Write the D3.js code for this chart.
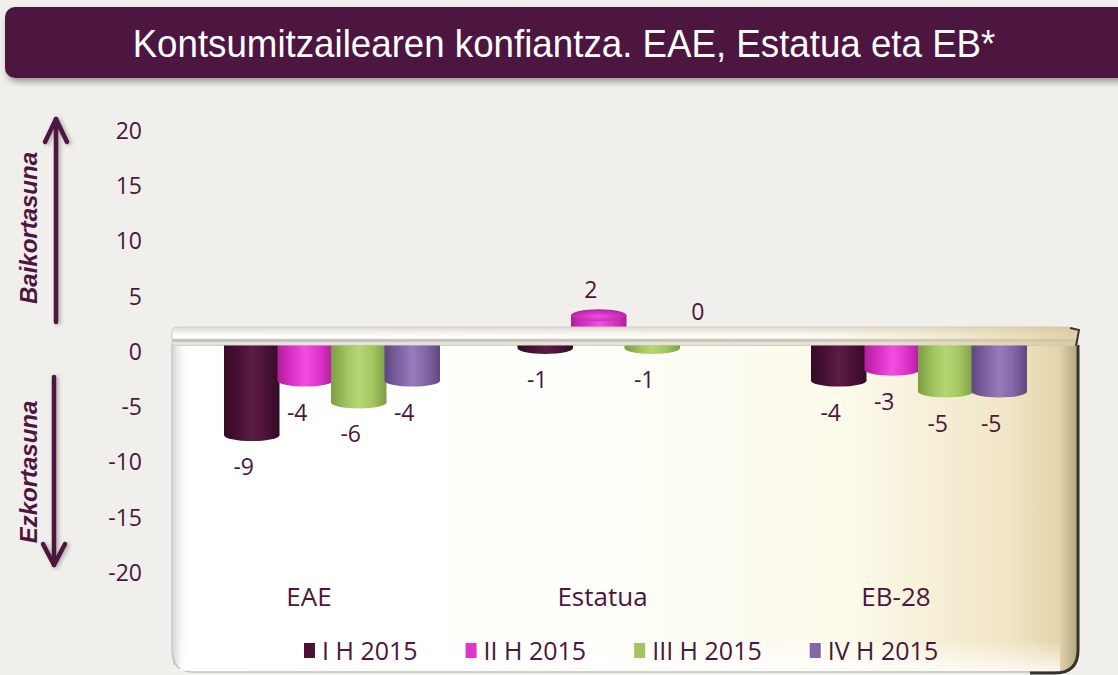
<!DOCTYPE html>
<html>
<head>
<meta charset="utf-8">
<script src="https://cdn.jsdelivr.net/npm/d3@7"></script>
<style>
  body { margin: 0; background: #f0efeb; }
  svg { display: block; }
</style>
</head>
<body>
<div id="chart"></div>
<script>
// --------------------------------------
//  Data
// --------------------------------------
const categories = ["EAE", "Estatua", "EB-28"];
const seriesNames = ["I H 2015", "II H 2015", "III H 2015", "IV H 2015"];
const iH2015 = [-9, -1, -4];
const iiH2015 = [-4, 2, -3];
const iiiH2015 = [-6, -1, -5];
const ivH2015 = [-4, 0, -5];
const yTicks = [20, 15, 10, 5, 0, -5, -10, -15, -20];
const title = "Kontsumitzailearen konfiantza. EAE, Estatua eta EB*";

const seriesValues = [iH2015, iiH2015, iiiH2015, ivH2015];

// colours: [edge, light, base]
const seriesColors = [
  ["#350a26", "#5c1c45", "#4b1237"],
  ["#b01f9c", "#f24ee2", "#e034cd"],
  ["#7f9d45", "#b7d676", "#a3c660"],
  ["#5e4880", "#957cba", "#8266a8"]
];

const width = 1118, height = 675;
const textColor = "#4d1540";

// --------------------------------------
//  Canvas
// --------------------------------------
const svg = d3.select("#chart")
  .append("svg")
  .attr("width", width)
  .attr("height", height);

const defs = svg.append("defs");

const shadow = defs.append("filter").attr("id", "shadow")
  .attr("x", "-5%").attr("y", "-20%").attr("width", "110%").attr("height", "160%");
shadow.append("feDropShadow")
  .attr("dx", 2).attr("dy", 4).attr("stdDeviation", 3)
  .attr("flood-color", "#000").attr("flood-opacity", 0.35);

const arrowShadow = defs.append("filter").attr("id", "arrowShadow")
  .attr("x", "-100%").attr("y", "-10%").attr("width", "300%").attr("height", "120%");
arrowShadow.append("feDropShadow")
  .attr("dx", 2).attr("dy", 1).attr("stdDeviation", 2)
  .attr("flood-color", "#000").attr("flood-opacity", 0.3);

// bar gradients
seriesColors.forEach((c, i) => {
  const g = defs.append("linearGradient").attr("id", "bar" + i)
    .attr("x1", 0).attr("x2", 1).attr("y1", 0).attr("y2", 0);
  g.append("stop").attr("offset", "0%").attr("stop-color", c[0]);
  g.append("stop").attr("offset", "30%").attr("stop-color", c[2]);
  g.append("stop").attr("offset", "50%").attr("stop-color", c[1]);
  g.append("stop").attr("offset", "75%").attr("stop-color", c[2]);
  g.append("stop").attr("offset", "100%").attr("stop-color", c[0]);
  const r = defs.append("radialGradient").attr("id", "top" + i)
    .attr("cx", "50%").attr("cy", "60%").attr("r", "60%");
  r.append("stop").attr("offset", "0%").attr("stop-color", c[1]);
  r.append("stop").attr("offset", "100%").attr("stop-color", c[0]);
});

// panel gradient
const pg = defs.append("linearGradient").attr("id", "panel")
  .attr("x1", 0).attr("x2", 1).attr("y1", 0).attr("y2", 0);
[["0%", "#ffffff"], ["45%", "#fefefa"], ["75%", "#fcfaea"], ["92%", "#f1e6c6"], ["98%", "#e3d4ab"], ["100%", "#b5a782"]]
  .forEach(s => pg.append("stop").attr("offset", s[0]).attr("stop-color", s[1]));

const lg = defs.append("linearGradient").attr("id", "leftShade")
  .attr("x1", 0).attr("x2", 1).attr("y1", 0).attr("y2", 0);
lg.append("stop").attr("offset", "0%").attr("stop-color", "#bbbbbb").attr("stop-opacity", 0.6);
lg.append("stop").attr("offset", "100%").attr("stop-color", "#ffffff").attr("stop-opacity", 0);

const bg = defs.append("linearGradient").attr("id", "bottomShade")
  .attr("x1", 0).attr("x2", 0).attr("y1", 0).attr("y2", 1);
bg.append("stop").attr("offset", "0%").attr("stop-color", "#ffffff").attr("stop-opacity", 0);
bg.append("stop").attr("offset", "100%").attr("stop-color", "#ffffff").attr("stop-opacity", 0.8);

const sg = defs.append("linearGradient").attr("id", "slab")
  .attr("x1", 0).attr("x2", 0).attr("y1", 0).attr("y2", 1);
[["0%", "#dcdad2"], ["25%", "#efeee9"], ["50%", "#ffffff"], ["62%", "#ffffff"], ["72%", "#b3b1aa"], ["85%", "#dcdad3"], ["100%", "#f7f6f2"]]
  .forEach(s => sg.append("stop").attr("offset", s[0]).attr("stop-color", s[1]));

const st = defs.append("linearGradient").attr("id", "slabTint")
  .attr("x1", 0).attr("x2", 1).attr("y1", 0).attr("y2", 0);
st.append("stop").attr("offset", "0%").attr("stop-color", "#efe2b8").attr("stop-opacity", 0);
st.append("stop").attr("offset", "70%").attr("stop-color", "#efe2b8").attr("stop-opacity", 0.15);
st.append("stop").attr("offset", "100%").attr("stop-color", "#d8c694").attr("stop-opacity", 0.8);

// --------------------------------------
//  Title
// --------------------------------------
svg.append("rect")
  .attr("x", 5).attr("y", 7)
  .attr("width", 1130).attr("height", 71)
  .attr("rx", 10)
  .attr("fill", "#4d1540")
  .attr("filter", "url(#shadow)");

svg.append("text")
  .attr("transform", "translate(564,57) scale(1,1.08)")
  .attr("text-anchor", "middle")
  .attr("fill", "#ffffff")
  .style("font-family", "'Liberation Sans', Arial, sans-serif")
  .style("font-size", "36.7px")
  .text(title);

// --------------------------------------
//  Scales
// --------------------------------------
const yAxis = d3.scaleLinear().domain([-20, 20]).range([572, 130]);
const yBar = d3.scaleLinear().domain([-20, 20]).range([555, 119]);
const x0 = d3.scalePoint().domain(categories).range([332, 919]);
const x1 = d3.scaleBand().domain(seriesNames).range([-107, 107]);
const barW = x1.bandwidth() + 2;
const ry = 6;

// --------------------------------------
//  Axis
// --------------------------------------
const axis = svg.append("g")
  .attr("transform", "translate(142,1)")
  .call(d3.axisLeft(yAxis).tickValues(yTicks).tickSize(0).tickPadding(0)
    .tickFormat(d => d < 0 ? "-" + Math.abs(d) : d));
axis.select(".domain").remove();
axis.selectAll("text")
  .attr("fill", textColor)
  .style("font-family", "'Open Sans', sans-serif")
  .style("font-size", "23px");

// arrows + side labels
const arrows = svg.append("g")
  .attr("stroke", "#4d1540").attr("stroke-width", 4.5)
  .attr("fill", "none").attr("stroke-linecap", "round").attr("stroke-linejoin", "round")
  .attr("filter", "url(#arrowShadow)");
arrows.append("line").attr("x1", 56).attr("y1", 322).attr("x2", 56).attr("y2", 119);
arrows.append("polyline").attr("points", "45,142 56,119 67,142");
arrows.append("line").attr("x1", 54).attr("y1", 377).attr("x2", 54).attr("y2", 565);
arrows.append("polyline").attr("points", "43,544 54,565 65,544");

[["Baikortasuna", 228], ["Ezkortasuna", 472]].forEach(([t, cy]) => {
  svg.append("text")
    .attr("transform", `translate(37,${cy}) rotate(-90)`)
    .attr("text-anchor", "middle")
    .attr("fill", textColor)
    .style("font-family", "'Liberation Sans', Arial, sans-serif")
    .style("font-size", "24px")
    .style("font-weight", "bold")
    .style("font-style", "italic")
    .text(t);
});

// --------------------------------------
//  Panel (floor)
// --------------------------------------
const panelPath = "M172,345 L1077,345 L1077,650 Q1077,672 1055,672 L194,672 Q172,672 172,650 Z";
svg.append("path").attr("d", panelPath)
  .attr("fill", "url(#panel)")
  .attr("stroke", "#c4c3bd").attr("stroke-width", 1.5);
svg.append("rect").attr("x", 173).attr("y", 345).attr("width", 16).attr("height", 320)
  .attr("fill", "url(#leftShade)");
svg.append("rect").attr("x", 180).attr("y", 640).attr("width", 880).attr("height", 31)
  .attr("fill", "url(#bottomShade)");
svg.append("path")
  .attr("d", "M1078,345 L1078,650 Q1078,673 1055,673 L1030,673")
  .attr("fill", "none").attr("stroke", "#35322a").attr("stroke-width", 3);

// --------------------------------------
//  Bars
// --------------------------------------
const rows = categories.map((c, ci) => seriesNames.map((s, si) => ({
  cat: c, series: s, si: si, value: seriesValues[si][ci]
})));

const bars = svg.append("g");
rows.flat().forEach(d => {
  const cx = x0(d.cat) + x1(d.series) + x1.bandwidth() / 2;
  const y0 = yBar(0), yv = yBar(d.value);
  if (d.value === 0) return;
  const g = bars.append("g");
  g.append("rect")
    .attr("x", cx - barW / 2).attr("width", barW)
    .attr("y", Math.min(y0, yv)).attr("height", Math.abs(yv - y0))
    .attr("fill", `url(#bar${d.si})`);
  g.append("ellipse")
    .attr("cx", cx).attr("cy", yv)
    .attr("rx", barW / 2).attr("ry", ry)
    .attr("fill", d.value > 0 ? `url(#top${d.si})` : `url(#bar${d.si})`);
});

// slab front edge drawn over the bars
const slabPath = "M172,345 L172,332 Q172,327 178,327 L1068,327 Q1078,327 1078,335 L1078,345 Z";
svg.append("path")
  .attr("d", slabPath)
  .attr("fill", "url(#slab)")
  .attr("stroke", "#cfcdc6").attr("stroke-width", 1);
svg.append("path")
  .attr("d", slabPath)
  .attr("fill", "url(#slabTint)");
svg.append("path")
  .attr("d", "M1070,328 L1079,330 L1076,346")
  .attr("fill", "none").attr("stroke", "#3a362c").attr("stroke-width", 2);

// --------------------------------------
//  Labels
// --------------------------------------
svg.append("g").selectAll("text")
  .data(rows.flat())
  .join("text")
    .attr("x", d => x0(d.cat) + x1(d.series) + x1.bandwidth() / 2 - 8)
    .attr("y", d => d.value < 0 ? yBar(d.value) + 40 : yBar(d.value) - 17)
    .attr("text-anchor", "middle")
    .attr("fill", textColor)
    .style("font-family", "'Open Sans', sans-serif")
    .style("font-size", "23px")
    .text(d => d.value < 0 ? "-" + Math.abs(d.value) : d.value);

svg.append("g").selectAll("text")
  .data(categories)
  .join("text")
    .attr("x", d => x0(d) - 23)
    .attr("y", 606)
    .attr("text-anchor", "middle")
    .attr("fill", textColor)
    .style("font-family", "'Open Sans', sans-serif")
    .style("font-size", "26px")
    .text(d => d);

// --------------------------------------
//  Legend
// --------------------------------------
const legend = svg.append("g");
let lx = 304;
seriesNames.forEach((s, i) => {
  legend.append("rect")
    .attr("x", lx).attr("y", 643).attr("width", 11).attr("height", 15)
    .attr("fill", seriesColors[i][2]);
  const t = legend.append("text")
    .attr("x", lx + 18).attr("y", 660)
    .attr("fill", textColor)
    .style("font-family", "'Open Sans', sans-serif")
    .style("font-size", "25px")
    .text(s);
  lx += 18 + t.node().getComputedTextLength() + 48;
});
</script>
</body>
</html>
